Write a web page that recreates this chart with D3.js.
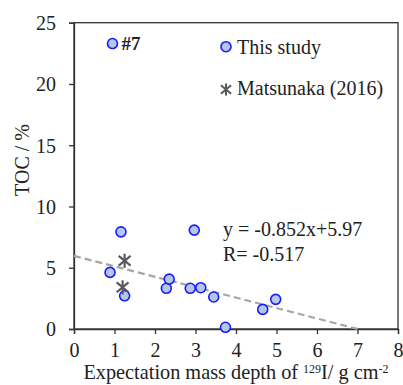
<!DOCTYPE html>
<html>
<head>
<meta charset="utf-8">
<script src="https://cdn.jsdelivr.net/npm/d3@7"></script>
<style>
body { margin: 0; background: #fff; }
svg text { font-family: "Liberation Serif", "Times New Roman", serif; fill: #222; }
</style>
</head>
<body>
<script>
const m = { width: 403, height: 385 }

// this study
const studyX = [0.95, 1.16, 0.89, 1.25, 2.28, 2.35, 2.87, 2.97, 3.13, 3.45, 3.74, 4.66, 4.98]
const studyY = [23.3, 7.93, 4.62, 2.71, 3.32, 4.07, 3.32, 8.07, 3.37, 2.61, 0.14, 1.6, 2.42]
// Matsunaka (2016)
const matsuX = [1.25, 1.2]
const matsuY = [5.57, 3.4]
// fit y = -0.852x + 5.97
const fitX = [0, 7]
const slope = -0.852, intercept = 5.97
const xTicks = [0, 1, 2, 3, 4, 5, 6, 7, 8]
const yTicks = [0, 5, 10, 15, 20, 25]

const svg = d3.select("body").append('svg')
    .attr('width', m.width)
    .attr('height', m.height)

const x = d3.scaleLinear().domain([0, 8]).range([74, 398])
const y = d3.scaleLinear().domain([0, 25]).range([329, 22.7])

// frame
svg.append('rect')
    .attr('x', x(0)).attr('y', y(25))
    .attr('width', x(8) - x(0)).attr('height', y(0) - y(25))
    .attr('fill', 'none').attr('stroke', '#333').attr('stroke-width', 1.3)

const xAxis = svg.append('g')
    .attr('transform', `translate(0,${y(0)})`)
    .call(d3.axisBottom(x).tickValues(xTicks).tickSize(5).tickPadding(9).tickFormat(d3.format('d')))
const yAxis = svg.append('g')
    .attr('transform', `translate(${x(0)},0)`)
    .call(d3.axisLeft(y).tickValues(yTicks).tickSize(5).tickPadding(13).tickFormat(d3.format('d')))

;[xAxis, yAxis].forEach(a => {
    a.attr('font-family', null).attr('font-size', null)
    a.select('.domain').attr('stroke', '#333').attr('stroke-width', 1.3)
    a.selectAll('.tick line').attr('stroke', '#333').attr('stroke-width', 1.3)
    a.selectAll('.tick text').style('font-size', '20px').style('font-family', '"Liberation Serif", serif').attr('fill', '#222')
})
yAxis.selectAll('.tick text').attr('dy', '0.34em')

// regression line
svg.append('line')
    .attr('x1', x(fitX[0])).attr('y1', y(slope * fitX[0] + intercept))
    .attr('x2', x(fitX[1])).attr('y2', y(Math.max(0, slope * fitX[1] + intercept)))
    .attr('stroke', '#a6a6a6').attr('stroke-width', 2.2)
    .attr('stroke-dasharray', '7,4')

// this study points
svg.selectAll('.pt')
    .data(studyX.map((d, i) => [d, studyY[i]]))
    .enter()
    .append('circle')
        .attr('cx', d => x(d[0]))
        .attr('cy', d => y(d[1]))
        .attr('r', 5)
        .attr('fill', '#b4c7e7')
        .attr('stroke', '#1a1aff')
        .attr('stroke-width', 1.6)

// excel style star: X plus a vertical bar
function star(g, cx, cy, s, w) {
    const p = g.append('g').attr('transform', `translate(${cx},${cy})`)
    const segs = [[0, -s, 0, s], [-s * 0.85, -s * 0.7, s * 0.85, s * 0.7], [-s * 0.85, s * 0.7, s * 0.85, -s * 0.7]]
    segs.forEach(c => {
        p.append('line')
            .attr('x1', c[0]).attr('y1', c[1])
            .attr('x2', c[2]).attr('y2', c[3])
            .attr('stroke', '#595959').attr('stroke-width', w)
    })
}

matsuX.forEach((d, i) => star(svg, x(d), y(matsuY[i]), 7, 2.2))

// labels
svg.append('text')
    .attr('x', x(studyX[0]) + 9).attr('y', y(studyY[0]) + 6.5)
    .style('font-size', '19px').attr('font-weight', 'bold')
    .text('#7')

// legend
svg.append('circle').attr('cx', 226).attr('cy', 46.7).attr('r', 5)
    .attr('fill', '#b4c7e7').attr('stroke', '#1a1aff').attr('stroke-width', 1.6)
svg.append('text').attr('x', 237).attr('y', 54).style('font-size', '20px').text('This study')
star(svg, 226, 89.5, 6, 2)
svg.append('text').attr('x', 237).attr('y', 94.5).style('font-size', '20px').text('Matsunaka (2016)')

svg.append('text').attr('x', 223).attr('y', 236).style('font-size', '20px').text('y = -0.852x+5.97')
svg.append('text').attr('x', 223).attr('y', 261).style('font-size', '20px').text('R= -0.517')

// axis titles
svg.append('text')
    .attr('transform', 'translate(28.5,160) rotate(-90)')
    .attr('text-anchor', 'middle').style('font-size', '20px')
    .text('TOC / %')

const xl = svg.append('text')
    .attr('x', 236).attr('y', 379)
    .attr('text-anchor', 'middle').style('font-size', '20.3px')
xl.append('tspan').text('Expectation mass depth of ')
xl.append('tspan').style('font-size', '12px').attr('dy', -6.5).text('129')
xl.append('tspan').attr('dy', 6.5).text('I/ g cm')
xl.append('tspan').style('font-size', '12px').attr('dy', -6.5).text('-2')
</script>
</body>
</html>
